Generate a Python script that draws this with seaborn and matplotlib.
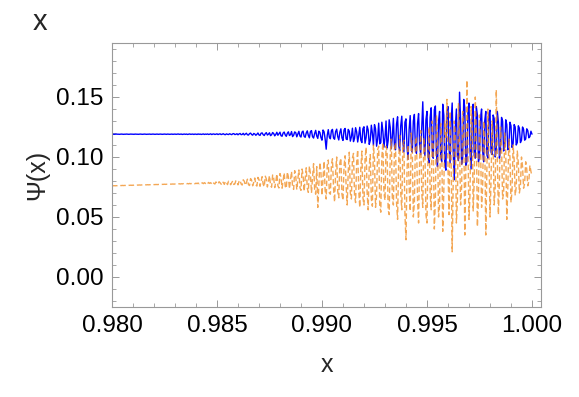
import numpy as np
import pandas as pd
import matplotlib
matplotlib.use("Agg")
import matplotlib.pyplot as plt
from matplotlib.ticker import MultipleLocator, FormatStrFormatter
import seaborn as sns

# x grid: 0.980 .. 1.000 in steps of 0.00005 (401 samples)
x_start, x_end, n_pts = 0.980, 1.000, 401

# blue series
psi_blue = [
    0.1190, 0.1190, 0.1189, 0.1190, 0.1191, 0.1190, 0.1190, 0.1189, 0.1190, 0.1191,
    0.1190, 0.1189, 0.1190, 0.1190, 0.1191, 0.1190, 0.1189, 0.1190, 0.1191, 0.1190,
    0.1190, 0.1189, 0.1191, 0.1190, 0.1190, 0.1189, 0.1190, 0.1191, 0.1190, 0.1189,
    0.1190, 0.1191, 0.1190, 0.1189, 0.1190, 0.1190, 0.1191, 0.1189, 0.1190, 0.1191,
    0.1190, 0.1189, 0.1190, 0.1191, 0.1189, 0.1190, 0.1191, 0.1190, 0.1189, 0.1190,
    0.1191, 0.1190, 0.1189, 0.1191, 0.1190, 0.1189, 0.1190, 0.1191, 0.1189, 0.1190,
    0.1191, 0.1189, 0.1190, 0.1192, 0.1189, 0.1190, 0.1191, 0.1188, 0.1190, 0.1191,
    0.1189, 0.1191, 0.1188, 0.1190, 0.1192, 0.1189, 0.1190, 0.1191, 0.1188, 0.1191,
    0.1190, 0.1188, 0.1192, 0.1189, 0.1191, 0.1188, 0.1190, 0.1192, 0.1188, 0.1191,
    0.1189, 0.1192, 0.1188, 0.1190, 0.1193, 0.1187, 0.1191, 0.1192, 0.1188, 0.1190,
    0.1193, 0.1187, 0.1191, 0.1193, 0.1187, 0.1190, 0.1194, 0.1188, 0.1186, 0.1193,
    0.1189, 0.1187, 0.1194, 0.1190, 0.1186, 0.1193, 0.1195, 0.1187, 0.1189, 0.1194,
    0.1185, 0.1192, 0.1196, 0.1186, 0.1188, 0.1197, 0.1184, 0.1191, 0.1198, 0.1185,
    0.1183, 0.1195, 0.1199, 0.1187, 0.1182, 0.1196, 0.1192, 0.1181, 0.1189, 0.1200,
    0.1184, 0.1180, 0.1198, 0.1201, 0.1186, 0.1179, 0.1195, 0.1203, 0.1183, 0.1190,
    0.1202, 0.1178, 0.1185, 0.1204, 0.1196, 0.1176, 0.1188, 0.1206, 0.1181, 0.1193,
    0.1207, 0.1177, 0.1173, 0.1200, 0.1208, 0.1184, 0.1172, 0.1198, 0.1210, 0.1179,
    0.1186, 0.1212, 0.1170, 0.1181, 0.1209, 0.1203, 0.1168, 0.1190, 0.1214, 0.1175,
    0.1166, 0.1208, 0.1216, 0.1172, 0.1164, 0.1200, 0.1218, 0.1180, 0.1160, 0.1212,
    0.1220, 0.1169, 0.1158, 0.1196, 0.1222, 0.1175, 0.1155, 0.1215, 0.1205, 0.1162,
    0.1140, 0.1225, 0.1210, 0.1150, 0.1065, 0.1180, 0.1228, 0.1165, 0.1152, 0.1220,
    0.1230, 0.1158, 0.1148, 0.1212, 0.1232, 0.1170, 0.1142, 0.1205, 0.1235, 0.1160,
    0.1138, 0.1225, 0.1238, 0.1150, 0.1145, 0.1230, 0.1215, 0.1132, 0.1168, 0.1240,
    0.1128, 0.1155, 0.1244, 0.1210, 0.1125, 0.1180, 0.1248, 0.1140, 0.1120, 0.1236,
    0.1252, 0.1115, 0.1160, 0.1258, 0.1225, 0.1105, 0.1140, 0.1265, 0.1198, 0.1098,
    0.1270, 0.1235, 0.1090, 0.1150, 0.1282, 0.1110, 0.1120, 0.1290, 0.1215, 0.1082,
    0.1160, 0.1300, 0.1075, 0.1135, 0.1310, 0.1245, 0.1068, 0.1170, 0.1322, 0.1090,
    0.1060, 0.1275, 0.1335, 0.1100, 0.1050, 0.1260, 0.1340, 0.1125, 0.1042, 0.1290,
    0.1318, 0.1080, 0.0980, 0.1230, 0.1345, 0.1115, 0.1040, 0.1300, 0.1355, 0.1060,
    0.1030, 0.1280, 0.1362, 0.1095, 0.1020, 0.1250, 0.1460, 0.1120, 0.1010, 0.1310,
    0.1380, 0.1005, 0.0950, 0.1330, 0.1410, 0.1060, 0.0990, 0.1395, 0.1425, 0.1030,
    0.0920, 0.1300, 0.1380, 0.1010, 0.0960, 0.1440, 0.1350, 0.0930, 0.0890, 0.1370,
    0.1420, 0.1080, 0.0950, 0.1300, 0.1450, 0.1040, 0.0810, 0.1250, 0.1400, 0.1000,
    0.0970, 0.1540, 0.1320, 0.0940, 0.1000, 0.1480, 0.1410, 0.0930, 0.0960, 0.1370,
    0.1450, 0.1050, 0.0900, 0.1320, 0.1440, 0.1010, 0.0990, 0.1420, 0.1350, 0.0960,
    0.1000, 0.1330, 0.1400, 0.1050, 0.0960, 0.1300, 0.1380, 0.1020, 0.0990, 0.1360,
    0.1390, 0.1040, 0.1020, 0.1350, 0.1320, 0.1000, 0.1060, 0.1380, 0.1290, 0.0990,
    0.1070, 0.1330, 0.1300, 0.1050, 0.1080, 0.1310, 0.1270, 0.1060, 0.1100, 0.1290,
    0.1260, 0.1080, 0.1110, 0.1270, 0.1250, 0.1100, 0.1120, 0.1260, 0.1240, 0.1120,
    0.1140, 0.1250, 0.1230, 0.1140, 0.1150, 0.1235, 0.1220, 0.1160, 0.1170, 0.1215,
    0.1190,
]

# orange (dashed) series
psi_orange = [
    0.0760, 0.0760, 0.0761, 0.0760, 0.0761, 0.0761, 0.0762, 0.0761, 0.0762, 0.0762,
    0.0763, 0.0762, 0.0763, 0.0763, 0.0764, 0.0763, 0.0764, 0.0764, 0.0765, 0.0764,
    0.0765, 0.0765, 0.0766, 0.0765, 0.0766, 0.0766, 0.0767, 0.0766, 0.0767, 0.0767,
    0.0768, 0.0767, 0.0768, 0.0768, 0.0769, 0.0768, 0.0769, 0.0769, 0.0770, 0.0769,
    0.0770, 0.0770, 0.0771, 0.0770, 0.0771, 0.0771, 0.0772, 0.0771, 0.0772, 0.0772,
    0.0773, 0.0772, 0.0773, 0.0773, 0.0774, 0.0773, 0.0774, 0.0774, 0.0775, 0.0774,
    0.0775, 0.0775, 0.0776, 0.0775, 0.0777, 0.0775, 0.0777, 0.0776, 0.0778, 0.0776,
    0.0778, 0.0777, 0.0779, 0.0776, 0.0780, 0.0777, 0.0780, 0.0778, 0.0781, 0.0777,
    0.0782, 0.0778, 0.0783, 0.0777, 0.0784, 0.0779, 0.0785, 0.0778, 0.0786, 0.0779,
    0.0787, 0.0777, 0.0788, 0.0780, 0.0786, 0.0776, 0.0790, 0.0781, 0.0775, 0.0792,
    0.0782, 0.0774, 0.0794, 0.0785, 0.0773, 0.0795, 0.0788, 0.0772, 0.0797, 0.0790,
    0.0770, 0.0798, 0.0792, 0.0769, 0.0786, 0.0800, 0.0771, 0.0776, 0.0802, 0.0790,
    0.0768, 0.0796, 0.0806, 0.0775, 0.0766, 0.0810, 0.0798, 0.0764, 0.0785, 0.0815,
    0.0770, 0.0762, 0.0820, 0.0805, 0.0760, 0.0790, 0.0825, 0.0768, 0.0758, 0.0830,
    0.0812, 0.0756, 0.0795, 0.0836, 0.0772, 0.0752, 0.0840, 0.0818, 0.0750, 0.0800,
    0.0845, 0.0765, 0.0748, 0.0850, 0.0825, 0.0745, 0.0792, 0.0858, 0.0760, 0.0742,
    0.0862, 0.0830, 0.0740, 0.0805, 0.0868, 0.0755, 0.0738, 0.0875, 0.0835, 0.0735,
    0.0810, 0.0880, 0.0748, 0.0730, 0.0886, 0.0840, 0.0728, 0.0815, 0.0892, 0.0745,
    0.0722, 0.0900, 0.0850, 0.0715, 0.0820, 0.0910, 0.0740, 0.0705, 0.0925, 0.0860,
    0.0700, 0.0830, 0.0945, 0.0730, 0.0690, 0.0920, 0.0580, 0.0760, 0.0955, 0.0870,
    0.0680, 0.0820, 0.0965, 0.0720, 0.0650, 0.0930, 0.0975, 0.0700, 0.0690, 0.0940,
    0.0985, 0.0740, 0.0625, 0.0880, 0.1000, 0.0710, 0.0660, 0.0950, 0.0990, 0.0690,
    0.0640, 0.0920, 0.1010, 0.0760, 0.0600, 0.0880, 0.1040, 0.0700, 0.0650, 0.0990,
    0.1030, 0.0680, 0.0620, 0.0950, 0.1060, 0.0720, 0.0580, 0.0910, 0.1050, 0.0660,
    0.0600, 0.0980, 0.1080, 0.0700, 0.0560, 0.0930, 0.1020, 0.0650, 0.0590, 0.1100,
    0.0980, 0.0580, 0.0680, 0.1060, 0.1090, 0.0600, 0.0540, 0.1000, 0.1120, 0.0700,
    0.0640, 0.1090, 0.1050, 0.0560, 0.0520, 0.1030, 0.1150, 0.0660, 0.0600, 0.1070,
    0.1120, 0.0620, 0.0480, 0.0950, 0.1180, 0.0700, 0.0560, 0.1100, 0.1140, 0.0520,
    0.0310, 0.0900, 0.1100, 0.0750, 0.0550, 0.1200, 0.1050, 0.0500, 0.0620, 0.1130,
    0.1170, 0.0640, 0.0450, 0.1000, 0.1220, 0.0700, 0.0580, 0.1160, 0.1080, 0.0520,
    0.0450, 0.1050, 0.1250, 0.0700, 0.0560, 0.1300, 0.1100, 0.0400, 0.0650, 0.1350,
    0.1200, 0.0500, 0.0600, 0.1280, 0.1150, 0.0380, 0.0700, 0.1300, 0.1150, 0.1480,
    0.0900, 0.0520, 0.1380, 0.1000, 0.0210, 0.0800, 0.1300, 0.1200, 0.0450, 0.0650,
    0.1450, 0.1100, 0.0600, 0.0750, 0.1380, 0.1250, 0.0350, 0.0900, 0.1640, 0.1100,
    0.0480, 0.0700, 0.1420, 0.1300, 0.0550, 0.0800, 0.1500, 0.1200, 0.0420, 0.0650,
    0.1350, 0.1100, 0.0580, 0.0750, 0.1300, 0.1150, 0.0350, 0.0850, 0.1400, 0.1050,
    0.0500, 0.0800, 0.1300, 0.1100, 0.0600, 0.0750, 0.1560, 0.1000, 0.0520, 0.0800,
    0.1250, 0.1100, 0.0650, 0.0700, 0.1200, 0.1050, 0.0480, 0.0750, 0.1150, 0.1000,
    0.0620, 0.0720, 0.1100, 0.0980, 0.0680, 0.0750, 0.1050, 0.0950, 0.0700, 0.0760,
    0.1000, 0.0920, 0.0740, 0.0780, 0.0960, 0.0900, 0.0760, 0.0800, 0.0930, 0.0880,
    0.0840,
]

x_vals = np.linspace(x_start, x_end, n_pts)
df = pd.DataFrame({"x": x_vals, "blue": psi_blue, "orange": psi_orange})

sns.set_style("ticks")
plt.rcParams["font.family"] = ["Liberation Sans", "DejaVu Sans"]

fig = plt.figure(figsize=(5.79, 3.97), dpi=100)
ax = fig.add_axes([0.1934, 0.2267, 0.741, 0.665])

sns.lineplot(data=df, x="x", y="blue", ax=ax, color="#0000ff", lw=1.0,
             estimator=None, sort=False)
sns.lineplot(data=df, x="x", y="orange", ax=ax, color="#f08a1c", lw=1.0,
             alpha=0.75, estimator=None, sort=False, linestyle=(0, (4, 2)))

ax.set_xlim(0.980, 1.00043)
ax.set_ylim(-0.025, 0.195)
ax.xaxis.set_major_locator(MultipleLocator(0.005))
ax.xaxis.set_minor_locator(MultipleLocator(0.001))
ax.yaxis.set_major_locator(MultipleLocator(0.05))
ax.yaxis.set_minor_locator(MultipleLocator(0.01))
ax.xaxis.set_major_formatter(FormatStrFormatter("%.3f"))
ax.yaxis.set_major_formatter(FormatStrFormatter("%.2f"))

frame_col = "#999999"
for sp in ax.spines.values():
    sp.set_color(frame_col)
    sp.set_linewidth(0.8)
ax.tick_params(which="both", direction="in", top=True, right=True,
               color=frame_col, labelsize=17.5, labelcolor="black")
ax.tick_params(which="major", length=5, width=0.7, pad=6)
ax.tick_params(which="minor", length=3, width=0.6)

ax.set_xlabel("x", fontsize=18, labelpad=11)
ax.set_ylabel("Ψ(x)", fontsize=18, labelpad=5)
fig.text(0.069, 0.945, "x", fontsize=21, ha="center", va="center")

fig.savefig("out.png", dpi=100)
